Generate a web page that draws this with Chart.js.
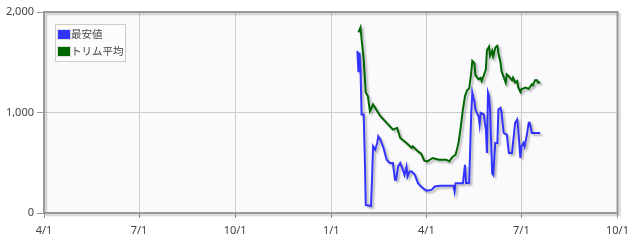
<!DOCTYPE html>
<html><head><meta charset="utf-8">
<script src="https://cdn.jsdelivr.net/npm/chart.js@4/dist/chart.umd.min.js"></script>
<style>html,body{margin:0;padding:0;background:#fff;}canvas{display:block;}</style>
</head><body>
<canvas id="c" width="635" height="244"></canvas>
<script>
// ---- data ----
const seriesNames = ['最安値', 'トリム平均'];
const tickDates = ['2023-04-01','2023-07-01','2023-10-01','2024-01-01','2024-04-01','2024-07-01','2024-10-01'];
const tickLabels = ['4/1','7/1','10/1','1/1','4/1','7/1','10/1'];
const yTicks = [0, 1000, 2000];

const lowDates = ['2024-01-26','2024-01-27','2024-01-28','2024-01-29','2024-01-30','2024-02-01','2024-02-02','2024-02-03',
 '2024-02-08','2024-02-09','2024-02-10','2024-02-12','2024-02-14','2024-02-15','2024-02-17','2024-02-20','2024-02-23',
 '2024-02-26','2024-02-29','2024-03-02','2024-03-03','2024-03-05','2024-03-07','2024-03-09','2024-03-11','2024-03-13',
 '2024-03-14','2024-03-16','2024-03-18','2024-03-21','2024-03-24','2024-03-27','2024-03-30','2024-04-01','2024-04-06',
 '2024-04-09','2024-04-14','2024-04-20','2024-04-27','2024-04-28','2024-04-29','2024-05-06','2024-05-08','2024-05-09',
 '2024-05-12','2024-05-14','2024-05-15','2024-05-16','2024-05-17','2024-05-18','2024-05-20','2024-05-21','2024-05-22',
 '2024-05-23','2024-05-26','2024-05-28','2024-05-29','2024-05-30','2024-05-31','2024-06-01','2024-06-03','2024-06-04',
 '2024-06-06','2024-06-08','2024-06-09','2024-06-11','2024-06-12','2024-06-14','2024-06-17','2024-06-19','2024-06-22',
 '2024-06-25','2024-06-27','2024-06-28','2024-06-30','2024-07-01','2024-07-03','2024-07-04','2024-07-06','2024-07-08',
 '2024-07-09','2024-07-11','2024-07-17','2024-07-19'];
const lowValues = [1613,1400,1597,1430,980,980,600,80,
 70,330,663,630,697,763,730,647,530,
 497,497,330,330,463,497,447,380,463,
 363,413,413,380,297,263,237,223,230,
 263,270,270,270,213,297,297,480,297,
 300,1000,1197,1150,1110,1030,980,963,880,
 997,980,830,597,1197,1163,1030,397,380,
 697,697,1030,1047,997,797,780,597,597,
 897,930,830,547,663,697,663,763,897,
 897,797,797,797];

const trimDates = ['2024-01-27','2024-01-29','2024-01-30','2024-02-01','2024-02-03','2024-02-05','2024-02-07','2024-02-10',
 '2024-02-14','2024-02-17','2024-02-23','2024-02-29','2024-03-04','2024-03-07','2024-03-13','2024-03-18','2024-03-19',
 '2024-03-24','2024-03-27','2024-03-30','2024-04-02','2024-04-07','2024-04-13','2024-04-20','2024-04-23','2024-04-26',
 '2024-04-29','2024-05-01','2024-05-02','2024-05-04','2024-05-06','2024-05-08','2024-05-10','2024-05-12','2024-05-14',
 '2024-05-15','2024-05-17','2024-05-18','2024-05-21','2024-05-23','2024-05-24','2024-05-26','2024-05-28','2024-05-29',
 '2024-05-31','2024-06-01','2024-06-03','2024-06-04','2024-06-06','2024-06-08','2024-06-09','2024-06-11','2024-06-12',
 '2024-06-14','2024-06-16','2024-06-17','2024-06-19','2024-06-22','2024-06-23','2024-06-25','2024-06-27','2024-06-28',
 '2024-06-30','2024-07-01','2024-07-05','2024-07-08','2024-07-11','2024-07-12','2024-07-14','2024-07-16','2024-07-17',
 '2024-07-19'];
const trimValues = [1797,1847,1730,1530,1200,1163,1013,1080,
 1013,963,897,830,847,747,697,647,663,
 613,590,520,513,547,530,530,513,557,
 580,663,713,863,1030,1163,1220,1240,1400,
 1513,1490,1370,1330,1345,1313,1370,1430,1620,
 1655,1563,1613,1560,1647,1663,1590,1497,1410,
 1355,1297,1380,1360,1320,1347,1297,1313,1250,
 1205,1230,1247,1235,1280,1270,1320,1320,1297,
 1300];

const seriesColors = ['#3333ff', '#006600'];

// ---- helpers ----
const ORIGIN = Date.UTC(2023, 3, 1);
function dayIndex(s) { const p = s.split('-').map(Number); return (Date.UTC(p[0], p[1]-1, p[2]) - ORIGIN) / 864e5; }
function pts(dates, vals) { return dates.map((d, i) => ({ x: dayIndex(d), y: vals[i] })); }
const tickPos = tickDates.map(dayIndex);

const shadowPlugin = {
  id: 'lineShadow',
  beforeDatasetDraw(chart) {
    const ctx = chart.ctx; ctx.save();
    ctx.shadowColor = 'rgba(0,0,0,0.28)'; ctx.shadowOffsetX = 2; ctx.shadowOffsetY = 2; ctx.shadowBlur = 2;
  },
  afterDatasetDraw(chart) { chart.ctx.restore(); }
};

const framePlugin = {
  id: 'frame',
  beforeDraw(chart) {
    const { ctx, chartArea: a } = chart;
    ctx.save(); ctx.fillStyle = '#fafafd'; ctx.fillRect(a.left, a.top, a.right - a.left, a.bottom - a.top); ctx.restore();
  },
  afterDatasetsDraw(chart) {
    const { ctx, chartArea: a } = chart;
    ctx.save();
    ctx.shadowColor = 'rgba(0,0,0,0.2)'; ctx.shadowOffsetX = 2; ctx.shadowOffsetY = 2; ctx.shadowBlur = 2;
    ctx.strokeStyle = '#999'; ctx.lineWidth = 2;
    ctx.strokeRect(a.left, a.top, a.right - a.left, a.bottom - a.top);
    ctx.restore();
    // legend
    ctx.save();
    const lx = 55.5, ly = 24.5, lw = 70, lh = 37;
    ctx.fillStyle = '#fcfcfe'; ctx.fillRect(lx, ly, lw, lh);
    ctx.strokeStyle = '#cccccc'; ctx.lineWidth = 1; ctx.strokeRect(lx, ly, lw, lh);
    ctx.font = '10.5px "Noto Sans CJK JP", "Noto Sans", sans-serif';
    ctx.textBaseline = 'middle'; ctx.textAlign = 'left';
    seriesNames.forEach((n, i) => {
      const cy = 34.5 + i * 17;
      ctx.fillStyle = seriesColors[i]; ctx.fillRect(57.5, cy - 5, 13, 10);
      ctx.strokeStyle = '#dddddd'; ctx.strokeRect(57.5, cy - 5, 13, 10);
      ctx.fillStyle = '#444'; ctx.fillText(n, 71, cy);
    });
    ctx.restore();
  }
};

new Chart(document.getElementById('c'), {
  type: 'line',
  data: {
    datasets: [
      { label: seriesNames[0], data: pts(lowDates, lowValues), borderColor: seriesColors[0], backgroundColor: seriesColors[0], borderWidth: 2, pointRadius: 0, tension: 0, fill: false },
      { label: seriesNames[1], data: pts(trimDates, trimValues), borderColor: seriesColors[1], backgroundColor: seriesColors[1], borderWidth: 2, pointRadius: 0, tension: 0, fill: false }
    ]
  },
  options: {
    responsive: false, animation: false, devicePixelRatio: 1,
    layout: { padding: { top: 12, right: 14, left: 0, bottom: 0 } },
    plugins: { legend: { display: false }, tooltip: { enabled: false } },
    scales: {
      x: {
        type: 'linear', min: tickPos[0], max: tickPos[tickPos.length - 1],
        afterBuildTicks(s) { s.ticks = tickPos.map(v => ({ value: v })); },
        afterFit(s) { s.height = 31; },
        ticks: { autoSkip: false, maxRotation: 0, padding: 6, color: '#444', font: { family: '"Noto Sans", sans-serif', size: 11 },
          callback(v) { const i = tickPos.indexOf(v); return i >= 0 ? tickLabels[i] : ''; } },
        grid: { color: '#cccccc', tickColor: '#999', tickLength: 5, lineWidth: 1 },
        border: { display: false }
      },
      y: {
        min: 0, max: 2000,
        afterBuildTicks(s) { s.ticks = yTicks.map(v => ({ value: v })); },
        afterFit(s) { s.width = 44; },
        ticks: { padding: 3, color: '#444', font: { family: '"Noto Sans", sans-serif', size: 11 },
          callback(v) { return v.toLocaleString('en-US'); } },
        grid: { color: '#cccccc', tickColor: '#999', tickLength: 7, lineWidth: 1 },
        border: { display: false }
      }
    }
  },
  plugins: [framePlugin, shadowPlugin]
});
</script>
</body></html>
